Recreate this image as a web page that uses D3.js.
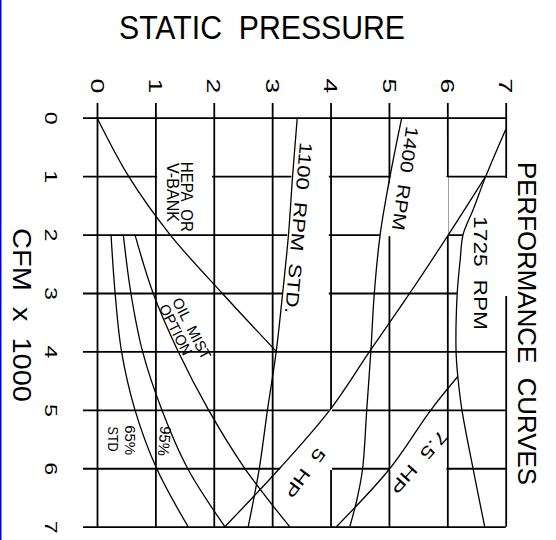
<!DOCTYPE html>
<html>
<head>
<meta charset="utf-8">
<script src="https://cdn.jsdelivr.net/npm/d3@7"></script>
<style>
  body { margin: 0; background: #fff; }
  svg { display: block; font-family: "Liberation Sans", Arial, sans-serif; }
  text { white-space: pre; }
</style>
</head>
<body>
<svg width="556" height="540"></svg>
<script>
// static pressure ticks / cfm ticks (x 1000)
var pTicks = [0, 1, 2, 3, 4, 5, 6, 7];
var cfmTicks = [0, 1, 2, 3, 4, 5, 6, 7];

// fan curves, static pressure read at each cfm
var cfm1100 = [0, 1, 2, 3, 4, 5, 6, 7];
var sp1100 = [3.43, 3.35, 3.28, 3.18, 3.07, 2.92, 2.78, 2.59];
var cfm1400 = [0, 1, 2, 3, 4, 5, 6, 6.5, 7];
var sp1400 = [5.22, 5.02, 4.85, 4.75, 4.69, 4.62, 4.55, 4.46, 4.33];
var cfm1725 = [0.2, 1, 1.58, 2, 2.44, 3, 4, 4.43, 5, 6, 7];
var sp1725 = [7.0, 6.66, 6.44, 6.27, 6.22, 6.17, 6.15, 6.18, 6.25, 6.44, 6.64];

// system / filter curves
var cfmHepa = [0, 1, 2, 3, 4];
var spHepa = [0, 0.54, 1.25, 2.14, 3.07];
var cfmOil = [2, 3, 4, 5, 6, 7];
var spOil = [0.65, 0.96, 1.39, 1.91, 2.53, 3.30];
var cfm95 = [2, 3, 4, 5, 6, 7];
var sp95 = [0.45, 0.58, 0.78, 1.11, 1.55, 2.19];
var cfm65 = [2, 3, 4, 5, 6, 7];
var sp65 = [0.24, 0.31, 0.42, 0.65, 1.02, 1.56];

// horsepower limit lines
var cfm5hp = [1, 2, 3, 4, 5, 6, 7];
var sp5hp = [6.66, 6.02, 5.36, 4.67, 3.99, 3.13, 2.19];
var cfm75hp = [4.43, 5, 6, 7];
var sp75hp = [6.18, 5.72, 5.02, 4.10];

var svg = d3.select("svg");

var x = d3.scaleLinear().domain([0, 7]).range([97, 505.7]);
var y = d3.scaleLinear().domain([0, 7]).range([117.7, 526.7]);

svg.append("rect").attr("x", 0).attr("y", 0).attr("width", 1.5).attr("height", 540).attr("fill", "#0000ff");

// grid from the axes
var gTop = svg.append("g")
    .attr("transform", "translate(0,103)")
    .call(d3.axisTop(x).tickValues(pTicks).tickSize(-(y(7) - 103)).tickFormat(d3.format("d")));
var gLeft = svg.append("g")
    .attr("transform", "translate(83,0)")
    .call(d3.axisLeft(y).tickValues(cfmTicks).tickSize(-(x(7) - 83)).tickFormat(d3.format("d")));

[gTop, gLeft].forEach(function (g) {
    g.select(".domain").remove();
    g.selectAll(".tick line").attr("stroke", "#000").attr("stroke-width", 1.8);
    g.selectAll(".tick text")
        .attr("x", 0).attr("y", 0).attr("dy", "0.36em")
        .attr("text-anchor", "middle")
        .attr("fill", "#000")
        .style("font-family", "'Liberation Sans', Arial, sans-serif");
});
gTop.selectAll(".tick text").attr("font-size", 19)
    .attr("transform", "translate(0,-17) rotate(90) scale(1.4,1)");
gLeft.selectAll(".tick text").attr("font-size", 16)
    .attr("transform", "translate(-32,0) rotate(90) scale(1.45,1)");

// wipe-outs behind the labels (data units: [pressure, cfm])
var masks = [
    [[1.03, 0.7], [1.97, 0.7], [1.97, 1.85], [1.03, 1.85]],
    [[3.37, 0.45], [3.97, 0.45], [3.97, 3.35], [3.16, 3.35]],
    [[5.16, 0.3], [5.985, 0.3], [5.985, 1.02], [6.02, 1.02], [6.02, 2.03], [4.84, 2.03]],
    [[6.66, 1.03], [7.06, 1.03], [7.06, 3.05], [6.16, 3.05], [6.22, 2.44], [6.27, 2.0], [6.44, 1.58]],
    [[3.12, 6.03], [3.99, 4.98], [4.025, 4.98], [4.025, 6.03]],
    [[5.0, 6.03], [5.68, 5.05], [5.985, 5.05], [5.985, 6.03]]
];
svg.append("g").selectAll("path")
    .data(masks)
    .enter().append("path")
    .attr("d", function (m) {
        return "M" + m.map(function (d) { return x(d[0]) + "," + y(d[1]); }).join("L") + "Z";
    })
    .attr("fill", "#fff");

var line = d3.line()
    .x(function (d) { return x(d[1]); })
    .y(function (d) { return y(d[0]); })
    .curve(d3.curveCatmullRom.alpha(0.5));

var curves = [
    [cfm1100, sp1100], [cfm1400, sp1400], [cfm1725, sp1725],
    [cfmHepa, spHepa], [cfmOil, spOil], [cfm95, sp95], [cfm65, sp65],
    [cfm5hp, sp5hp], [cfm75hp, sp75hp]
];
svg.append("g").selectAll("path")
    .data(curves)
    .enter().append("path")
    .attr("d", function (c) { return line(d3.zip(c[0], c[1])); })
    .attr("fill", "none")
    .attr("stroke", "#000")
    .attr("stroke-width", 1.3);

function label(str, px, py, angle, fs, len) {
    svg.append("text")
        .attr("transform", "translate(" + px + "," + py + ") rotate(" + angle + ")")
        .attr("text-anchor", "middle")
        .attr("dy", "0.36em")
        .attr("font-size", fs)
        .attr("textLength", len)
        .attr("lengthAdjust", "spacingAndGlyphs")
        .attr("fill", "#000")
        .text(str);
}

// titles
label("STATIC  PRESSURE", 262, 27, 0, 33, 286);
label("PERFORMANCE  CURVES", 527.5, 323.5, 90, 25.5, 323);
label("CFM  x  1000", 22.5, 315, 90, 25.5, 174);

// curve labels, placed in chart units
label("HEPA  OR", x(1.53), y(1.353), 90, 16, 70);
label("V-BANK", x(1.30), y(1.28), 90, 16, 59);
label("1100  RPM  STD.", x(3.459), y(1.889), 95, 18, 172);
label("1400  RPM", x(5.283), y(1.041), 98, 18, 105);
label("1725  RPM", x(6.567), y(2.659), 90, 18, 114);
label("OIL  MIST", x(1.625), y(3.604), 63, 15, 67);
label("OPTION", x(1.349), y(3.627), 63, 15, 55);
label("65%", x(0.574), y(5.519), 90, 15.5, 30);
label("STD", x(0.283), y(5.50), 90, 15.5, 25);
label("95%", x(1.16), y(5.536), 95, 15.5, 30);
label("5  HP", x(3.562), y(6.084), 127, 17, 57);
label("7.5  HP", x(5.514), y(5.896), 132, 17, 78);
</script>
</body>
</html>
